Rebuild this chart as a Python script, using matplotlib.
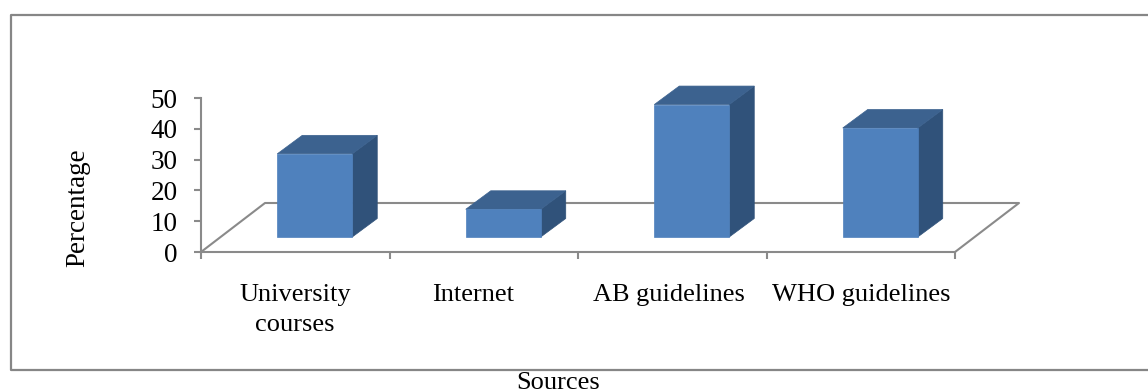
import matplotlib
matplotlib.use('Agg')
import matplotlib.pyplot as plt
from matplotlib.lines import Line2D

plt.rcParams['font.family'] = ['Liberation Serif', 'DejaVu Serif']

sources = ['University\ncourses', 'Internet', 'AB guidelines', 'WHO guidelines']
percentages = [27, 9, 43, 35.4]
y_ticks = [0, 10, 20, 30, 40, 50]

W, H = 1148, 392
fig = plt.figure(figsize=(W / 100, H / 100), dpi=100)

# axes box is the front edge of the floor and the height of the value axis
left, right, bottom, top = 201, 955, 252, 98
ax = fig.add_axes([left / W, 1 - bottom / H, (right - left) / W, (bottom - top) / H])
ax.set_xlim(0, len(sources))
ax.set_ylim(0, 50)

xpx = (right - left) / len(sources)
ypx = (bottom - top) / 50

# fake 3d offsets, in data units
floor_dx = 64 / xpx
floor_dy = 49 / ypx
depth_dx = 25 / xpx
depth_dy = 18.5 / ypx
front_y = 15 / ypx
bar_w = 75 / xpx
bar_shift = 19.5 / xpx

grey = '#8a8a8a'

# floor outline and back wall line
ax.plot([0, floor_dx, len(sources) + floor_dx, len(sources)],
        [0, floor_dy, floor_dy, 0], color=grey, lw=1.5, clip_on=False, zorder=1)

for i, v in enumerate(percentages):
    x0 = i + 0.5 + bar_shift - bar_w / 2
    x1 = x0 + bar_w
    y0 = front_y
    y1 = front_y + v
    # right side
    ax.fill([x1, x1 + depth_dx, x1 + depth_dx, x1],
            [y0, y0 + depth_dy, y1 + depth_dy, y1],
            color='#30527a', lw=0.5, clip_on=False, zorder=2)
    # top
    ax.fill([x0, x1, x1 + depth_dx, x0 + depth_dx],
            [y1, y1, y1 + depth_dy, y1 + depth_dy],
            color='#3c628f', lw=0.5, clip_on=False, zorder=2)
    # front
    ax.fill([x0, x1, x1, x0], [y0, y0, y1, y1],
            color='#4f81bd', lw=0.5, clip_on=False, zorder=3)

for s in ['top', 'right']:
    ax.spines[s].set_visible(False)
for s in ['left', 'bottom']:
    ax.spines[s].set_color(grey)
    ax.spines[s].set_linewidth(1.5)

ax.set_yticks(y_ticks)
ax.set_xticks(range(len(sources) + 1))
ax.set_xticklabels([])
ax.tick_params(axis='both', color=grey, width=1.5, length=5)
ax.tick_params(axis='y', labelsize=19.5, pad=12)
ax.patch.set_visible(False)

# category labels sit a little off their slot centres
label_x = [295, 473.5, 669, 861]
for x, s in zip(label_x, sources):
    fig.text(x / W, 1 - 284 / H, s, fontsize=19,
             ha='center', va='top', linespacing=1.47)

fig.text(78 / W, 1 - 208 / H, 'Percentage', rotation=90, fontsize=19.5,
         ha='center', va='center')
fig.text(558 / W, 1 - 383 / H, 'Sources', fontsize=19, ha='center', va='center')

# outer chart frame, open on the right where it runs off the edge
frame_x = [W, 10.5, 10.5, W]
frame_y = [14.5, 14.5, 369.5, 369.5]
fig.add_artist(Line2D([x / W for x in frame_x], [1 - y / H for y in frame_y],
                      transform=fig.transFigure, color='#868686', lw=1.6))

fig.savefig('out.png', dpi=100)
